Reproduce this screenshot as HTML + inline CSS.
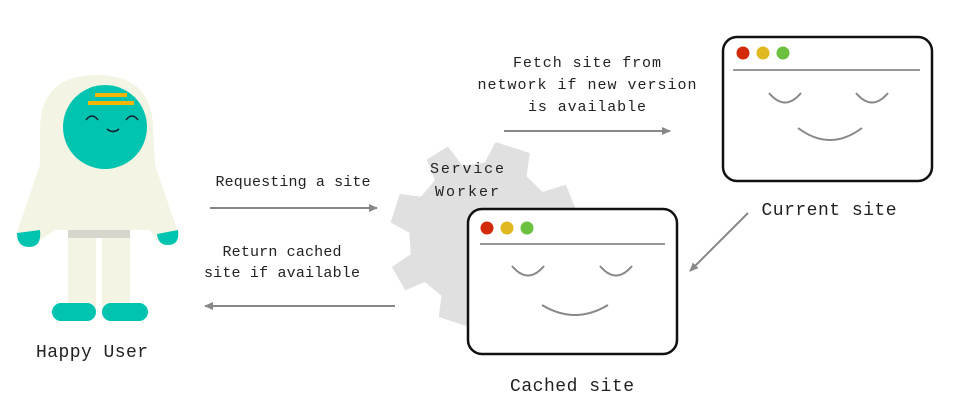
<!DOCTYPE html>
<html><head><style>body{margin:0;background:#fff}svg{display:block}text{font-family:"Liberation Mono",monospace;fill:#222}</style></head>
<body>
<svg width="962" height="402" viewBox="0 0 962 402" xmlns="http://www.w3.org/2000/svg">
<defs><marker id="a" markerWidth="10" markerHeight="10" refX="8" refY="5" orient="auto" markerUnits="userSpaceOnUse"><path d="M0,1 L9,5 L0,9 Z" fill="#888"/></marker></defs>
<!-- figure -->
<g>
<rect x="68" y="226" width="28" height="84" fill="#f4f4e4"/>
<rect x="102" y="226" width="28" height="84" fill="#f4f4e4"/>
<rect x="68" y="228" width="62" height="10" fill="#d6d6cc"/>
<path d="M40,130 Q40,75 97,75 Q153,75 153,130 L155,165 L178,232 L157,240 L150,230 L55,230 L40,240 L17,232 L40,165 Z" fill="#f4f4e4"/>
<path d="M17,233 L40,230 Q42,247 29,247 Q17,247 17,233Z" fill="#00c4b0"/>
<path d="M157,234 L178,230 Q180,245 168,245 Q158,245 157,234Z" fill="#00c4b0"/>
<rect x="52" y="303" width="44" height="18" rx="9" fill="#00c4b0"/>
<rect x="102" y="303" width="46" height="18" rx="9" fill="#00c4b0"/>
<circle cx="105" cy="127" r="42" fill="#00c4b0"/>
<path d="M95,95 L127,95 M88,103 L134,103" stroke="#f4b400" stroke-width="4"/>
<path d="M86,120 Q92,112 98,120 M126,120 Q132,112 138,120 M107,129 Q113,134 119,129" stroke="#123" stroke-width="1.6" fill="none"/>
</g>
<text x="92" y="357" font-size="18" text-anchor="middle" textLength="112">Happy User</text>
<!-- gear -->
<g transform="translate(484,236) rotate(18)">
<path d="M-18,-93 L18,-93 L22,-70 L42,-60 L62,-74 L78,-55 L64,-38 L72,-18 L93,-14 L93,16 L72,20 L64,40 L78,58 L58,76 L42,62 L22,70 L18,91 L-18,91 L-22,70 L-42,62 L-58,76 L-78,58 L-64,40 L-72,20 L-93,16 L-93,-14 L-72,-18 L-64,-38 L-78,-55 L-62,-74 L-42,-60 L-22,-70 Z" fill="#e0e0e0"/>
</g>
<text x="467" y="173" font-size="15" text-anchor="middle" textLength="74">Service</text>
<text x="467" y="196" font-size="15" text-anchor="middle" textLength="64">Worker</text>
<!-- arrows -->
<g stroke="#888" stroke-width="2" fill="none" marker-end="url(#a)">
<line x1="210" y1="208" x2="377" y2="208"/>
<line x1="395" y1="306" x2="205" y2="306"/>
<line x1="504" y1="131" x2="670" y2="131"/>
<line x1="748" y1="213" x2="690" y2="271"/>
</g>
<text x="293" y="186" font-size="15" text-anchor="middle" textLength="155">Requesting a site</text>
<text x="282" y="256" font-size="15" text-anchor="middle" textLength="119">Return cached</text>
<text x="282" y="277" font-size="15" text-anchor="middle" textLength="156">site if available</text>
<text x="587" y="67" font-size="15" text-anchor="middle" textLength="148">Fetch site from</text>
<text x="587" y="89" font-size="15" text-anchor="middle" textLength="219">network if new version</text>
<text x="587" y="111" font-size="15" text-anchor="middle" textLength="118">is available</text>
<!-- current window -->
<rect x="723" y="37" width="209" height="144" rx="14" fill="#fff" stroke="#111" stroke-width="2.5"/>
<circle cx="743" cy="53" r="6.5" fill="#d42a0c"/><circle cx="763" cy="53" r="6.5" fill="#e0b820"/><circle cx="783" cy="53" r="6.5" fill="#6cc040"/>
<line x1="733" y1="70" x2="920" y2="70" stroke="#999" stroke-width="2"/>
<path d="M769,93 Q785,112 801,93 M856,93 Q872,112 888,93 M798,128 Q830,152 862,128" stroke="#888" stroke-width="2" fill="none"/>
<text x="829" y="215" font-size="18" text-anchor="middle" textLength="135">Current site</text>
<!-- cached window -->
<rect x="468" y="209" width="209" height="145" rx="14" fill="#fff" stroke="#111" stroke-width="2.5"/>
<circle cx="487" cy="228" r="6.5" fill="#d42a0c"/><circle cx="507" cy="228" r="6.5" fill="#e0b820"/><circle cx="527" cy="228" r="6.5" fill="#6cc040"/>
<line x1="480" y1="244" x2="665" y2="244" stroke="#999" stroke-width="2"/>
<path d="M512,266 Q528,285 544,266 M600,266 Q616,285 632,266 M542,305 Q575,325 608,305" stroke="#888" stroke-width="2" fill="none"/>
<text x="572" y="391" font-size="18" text-anchor="middle" textLength="124">Cached site</text>
</svg>
</body></html>
